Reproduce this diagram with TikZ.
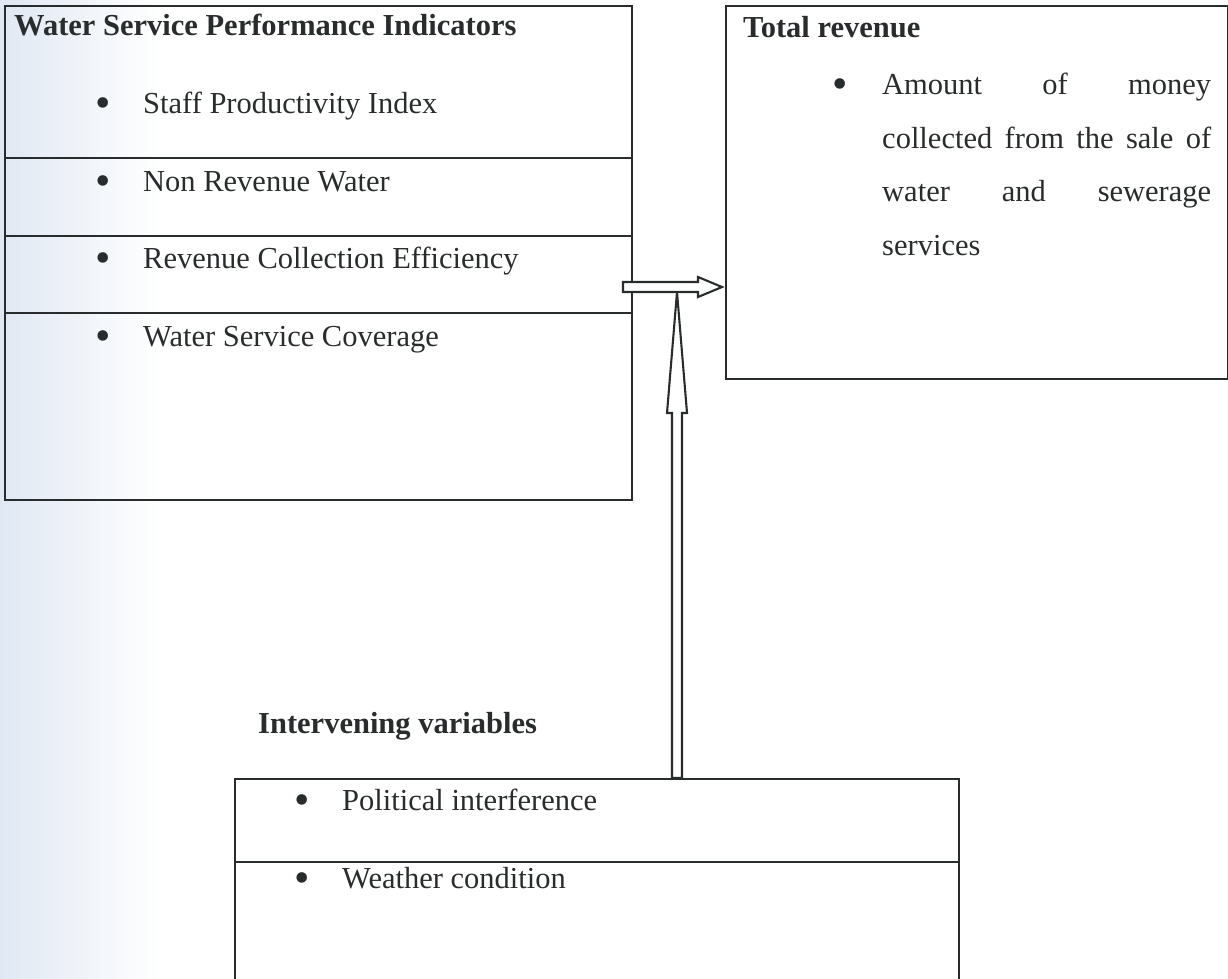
\documentclass[tikz,border=0pt]{standalone}
\usepackage{fontspec}
\setmainfont{Liberation Serif}
\usetikzlibrary{positioning}
\usepackage{xcolor}
\definecolor{ink}{RGB}{40,44,44}
\definecolor{scanblue}{RGB}{224,232,243}
\newcommand{\bigbul}{\raisebox{-4pt}{\fontsize{44}{44}\selectfont\textbullet}}
\newcommand{\bul}{\makebox[46pt][l]{\hspace{-2pt}\bigbul}}

\begin{document}
\begin{tikzpicture}[x=1pt, y=-1pt,
frame/.style={draw=ink, line width=1.6pt, rectangle,
anchor=north west, inner sep=0pt},
head/.style={anchor=base west, inner sep=0pt, text=ink,
font=\fontsize{30.5}{36}\selectfont\bfseries},
item/.style={anchor=base west, inner sep=0pt, text=ink,
font=\fontsize{30.5}{36}\selectfont},
rule/.style={draw=ink, line width=1.6pt},
hollow/.style={draw=ink, fill=white, line width=2.1pt, line join=miter}
]
\useasboundingbox (0,0) rectangle (1228,978);
\shade[left color=scanblue, right color=white] (0,0) rectangle (160,978);

% boxes
\node[frame, minimum width=627pt, minimum height=494pt] (wspi) at (4,5) {};
\node[frame, minimum width=502pt, minimum height=373pt] (rev) at (725,5) {};
\node[frame, minimum width=724pt, minimum height=260pt] (iv) at (234,778) {};
\foreach \y in {158,236,313}
  \draw[rule] (wspi.west |- 0,\y) -- (wspi.east |- 0,\y);
\draw[rule] (iv.west |- 0,862) -- (iv.east |- 0,862);

% independent variables
\node[head] (wspihd) at (14,35) {Water Service Performance Indicators};
\node[item] (staff) at (97,113) {\bul Staff Productivity Index};
\node[item] (nrw) at (97,191) {\bul Non Revenue Water};
\node[item] (rce) at (97,268) {\bul Revenue Collection Efficiency};
\node[item] (wsc) at (97,346) {\bul Water Service Coverage};

% dependent variable
\node[head] (revhd) at (743,37) {Total revenue};
\node[item] (revbul) at (832,94) {\bigbul};
\node[item] (amt1) at (882,94) {\makebox[329pt][s]{Amount of money}};
\node[item] (amt2) at (882,148) {\makebox[329pt][s]{collected from the sale of}};
\node[item] (amt3) at (882,201) {\makebox[329pt][s]{water and sewerage}};
\node[item] (amt4) at (882,255) {services};

% intervening variables
\node[head] (ivhd) at (258,733) {Intervening variables};
\node[item] (pol) at (296,810) {\bul Political interference};
\node[item] (wea) at (296,888) {\bul Weather condition};

% arrows
\coordinate (vb) at (iv.north -| 677,0);
\draw[hollow] (vb) ++(-5,0) -- ++(0,-365) -- ++(-5,0) -- ++(10,-121)
  -- ++(10,121) -- ++(-5,0) -- ++(0,365) -- cycle;
\coordinate (hs) at (623,287);
\coordinate (ht) at (rev.west |- hs);
\draw[hollow] ([xshift=-3pt]ht) -- ++(-24,-10) -- ++(0,5) -- ++(-75,0)
  -- ++(0,10) -- ++(75,0) -- ++(0,5) -- cycle;

\end{tikzpicture}
\end{document}
